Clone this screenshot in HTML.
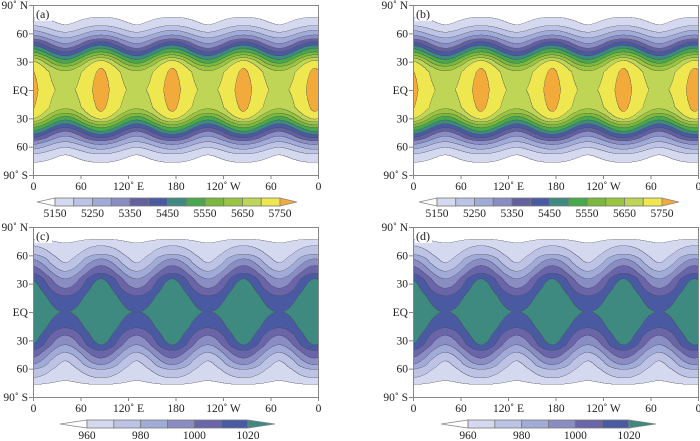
<!DOCTYPE html>
<html><head><meta charset="utf-8">
<style>
html,body{margin:0;padding:0;background:#fff;}
#root{position:relative;width:700px;height:441px;overflow:hidden;font-family:"Liberation Serif",serif;}
canvas{position:absolute;}
svg{position:absolute;left:0;top:0;}
</style></head>
<body>
<div id="root">
<canvas id="ca" width="570" height="340" style="left:33px;top:5px;width:285px;height:170px"></canvas>
<canvas id="cb" width="570" height="340" style="left:413px;top:5px;width:285px;height:170px"></canvas>
<canvas id="cc" width="570" height="340" style="left:33px;top:227px;width:285px;height:170px"></canvas>
<canvas id="cd" width="570" height="340" style="left:413px;top:227px;width:285px;height:170px"></canvas>
<svg id="ov" width="700" height="441"></svg>
</div>
<script>
// ---- data ----
const ridgeLatA = [0, 10, 20, 23, 27, 31, 34, 37, 40, 44, 47, 51, 54, 58, 63, 68, 77, 90];
const ridgeValA = [5760, 5758, 5753, 5750, 5735, 5700, 5650, 5600, 5550, 5500, 5450, 5400, 5350, 5300, 5250, 5200, 5150, 5100];
const troughLatA = [0, 19, 24, 28, 32, 36, 40, 44, 49, 55, 61, 69, 90];
const troughValA = [5687, 5660, 5615, 5550, 5500, 5450, 5400, 5350, 5300, 5250, 5200, 5150, 5100];
const levelsA = [5150, 5200, 5250, 5300, 5350, 5400, 5450, 5500, 5550, 5600, 5650, 5700, 5750];
const colorsA = ["#ffffff","#d5d9ef","#bcc3e4","#a0abd8","#8a8cc4","#63609f","#4a5aa2","#3e8a80","#47a94c","#7cb83e","#9cc53f","#bfd556","#eee74f","#f2aa3a"];
const tickLabelsA = ["5150","5250","5350","5450","5550","5650","5750"];

const ridgeLatC = [0, 10, 20, 30, 35, 41, 49, 56, 61, 70, 77, 90];
const ridgeValC = [1032, 1030, 1027, 1023, 1020, 1010, 1000, 990, 980, 970, 960, 950];
const troughLatC = [0, 17, 25, 35, 43, 52, 73, 90];
const troughValC = [1019.8, 1010, 1000, 990, 980, 970, 960, 950];
const levelsC = [960, 970, 980, 990, 1000, 1010, 1020];
const colorsC = ["#ffffff","#d5d9ef","#bcc3e4","#a0abd8","#8a8cc4","#6a64a9","#4a5aa2","#3e8a80"];
const tickLabelsC = ["960","980","1000","1020"];

const latTicks = [90, 60, 30, 0, -30, -60, -90];
const latLabels = ["90˚ N","60","30","EQ","30","60","90˚ S"];
const lonTicks = [0, 60, 120, 180, 240, 300, 360];
const lonLabels = ["0","60","120˚ E","180","120˚ W","60","0"];
const ridgeLon = 86;
const waveNumber = 4;

// ---- helpers ----
function interp(xs, ys, x){
  if (x <= xs[0]) return ys[0];
  for (let i = 1; i < xs.length; i++){
    if (x <= xs[i]) { const t = (x - xs[i-1])/(xs[i]-xs[i-1]); return ys[i-1] + t*(ys[i]-ys[i-1]); }
  }
  return ys[ys.length-1];
}
function hex(c){ return [parseInt(c.substr(1,2),16),parseInt(c.substr(3,2),16),parseInt(c.substr(5,2),16)]; }
function field(lon, lat, rl, rv, tl, tv){
  const a = Math.abs(lat);
  const R = interp(rl, rv, a), T = interp(tl, tv, a);
  const c = Math.cos(waveNumber*(lon - ridgeLon)*Math.PI/180);
  return (R+T)/2 + (R-T)/2*c;
}
function band(v, levels){ let b = 0; while (b < levels.length && v >= levels[b]) b++; return b; }

function drawMap(id, rl, rv, tl, tv, levels, colors){
  const cv = document.getElementById(id), ctx = cv.getContext('2d');
  const W = cv.width, H = cv.height;
  const img = ctx.createImageData(W, H);
  const bands = new Int16Array(W*H);
  for (let j = 0; j < H; j++){
    const lat = 90 - (j+0.5)/H*180;
    for (let i = 0; i < W; i++){
      const lon = (i+0.5)/W*360;
      bands[j*W+i] = band(field(lon, lat, rl, rv, tl, tv), levels);
    }
  }
  const cols = colors.map(hex);
  for (let j = 0; j < H; j++) for (let i = 0; i < W; i++){
    const k = j*W+i, b = bands[k];
    let edge = (i < W-1 && bands[k+1] !== b) || (j < H-1 && bands[k+W] !== b);
    let c = cols[b];
    if (edge) c = [c[0]*0.35+70*0.65, c[1]*0.35+70*0.65, c[2]*0.35+78*0.65];
    img.data[k*4] = c[0]; img.data[k*4+1] = c[1]; img.data[k*4+2] = c[2]; img.data[k*4+3] = 255;
  }
  ctx.putImageData(img, 0, 0);
}
drawMap('ca', ridgeLatA, ridgeValA, troughLatA, troughValA, levelsA, colorsA);
drawMap('cb', ridgeLatA, ridgeValA, troughLatA, troughValA, levelsA, colorsA);
drawMap('cc', ridgeLatC, ridgeValC, troughLatC, troughValC, levelsC, colorsC);
drawMap('cd', ridgeLatC, ridgeValC, troughLatC, troughValC, levelsC, colorsC);

// ---- axes ----
const NS = "http://www.w3.org/2000/svg";
const ov = document.getElementById('ov');
function el(tag, attrs, parent){ const e = document.createElementNS(NS, tag); for (const k in attrs) e.setAttribute(k, attrs[k]); (parent||ov).appendChild(e); return e; }

function axes(px, py, tag){
  const w = 285, h = 170;
  const g = el('g', {});
  
  
  const frame = el('rect', {x:px+0.5, y:py+0.5, width:w, height:h, fill:'none', stroke:'#888', 'stroke-width':1}, g);
  
  
  latTicks.forEach((lt, i) => {
    const y = py + (90 - lt)/180*h;
    el('line', {x1:px-4, x2:px, y1:y+0.5, y2:y+0.5, stroke:'#888'}, g);
    const t = el('text', {x:px-5, y:y+4, 'text-anchor':'end', 'font-size':'11.5', fill:'#222'}, g);
    t.textContent = latLabels[i];
    
    
  });
  lonTicks.forEach((ln, i) => {
    const x = px + ln/360*w;
    el('line', {x1:x+0.5, x2:x+0.5, y1:py+h, y2:py+h+4, stroke:'#888'}, g);
    const t = el('text', {x:x+0.5, y:py+h+15, 'text-anchor':'middle', 'font-size':'11.5', fill:'#222'}, g);
    t.textContent = lonLabels[i];
    
    
  });
  el('rect', {x:px+2, y:py+2, width:17, height:14, fill:'#fff'}, g);
  const lb = el('text', {x:px+3, y:py+13, 'font-size':'12', fill:'#222'}, g);
  lb.textContent = '(' + tag + ')';
  
  
}
axes(33, 5, 'a'); axes(413, 5, 'b'); axes(33, 227, 'c'); axes(413, 227, 'd');

function colorbar(x0, x1, tipL, tipR, y, hgt, levels, colors, labels, labY, tag){
  const g = el('g', {});
  
  
  const n = levels.length - 1, bw = (x1 - x0)/n;
  el('polygon', {points:`${tipL},${y+hgt/2} ${x0},${y} ${x0},${y+hgt}`, fill:colors[0], stroke:'#888', 'stroke-width':0.8}, g);
  for (let i = 0; i < n; i++){
    const r = el('rect', {x:x0+i*bw, y:y, width:bw, height:hgt, fill:colors[i+1], stroke:'#777', 'stroke-width':0.8}, g);
    
    
  }
  el('polygon', {points:`${x1},${y} ${tipR},${y+hgt/2} ${x1},${y+hgt}`, fill:colors[colors.length-1], stroke:'#888', 'stroke-width':0.8}, g);
  labels.forEach((lab, i) => {
    const x = x0 + (i*2)*bw;
    const t = el('text', {x:x, y:labY, 'text-anchor':'middle', 'font-size':'11.5', fill:'#222'}, g);
    t.textContent = lab;
    
    
  });
}
colorbar(55, 280, 37, 297, 198, 8, levelsA, colorsA, tickLabelsA, 217, 'a');
colorbar(437, 662, 419, 679, 198, 8, levelsA, colorsA, tickLabelsA, 217, 'b');
colorbar(87, 248, 60, 275, 420, 8, levelsC, colorsC, tickLabelsC, 439, 'c');
colorbar(468, 629, 441, 656, 420, 8, levelsC, colorsC, tickLabelsC, 439, 'd');
</script>
</body></html>
